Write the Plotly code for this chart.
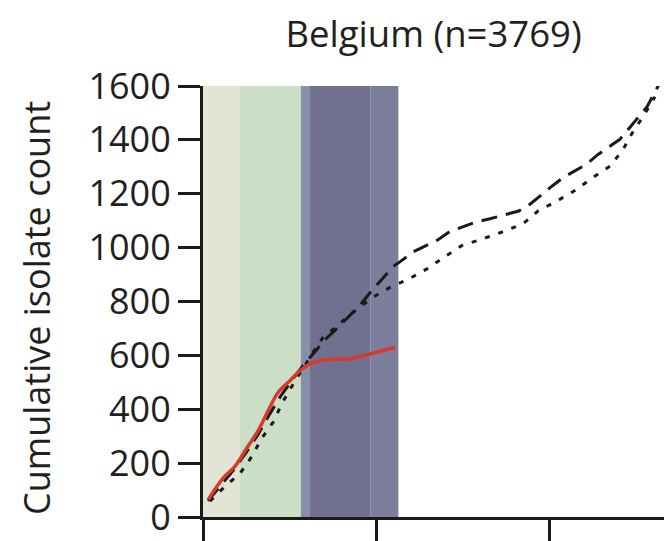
import plotly.graph_objects as go

# x in months from start; y cumulative isolate count
red_x = [0.37, 1.41, 2.22, 3.03, 3.84, 4.53, 5.22, 6.03, 6.85, 7.65, 9.04, 9.97, 11.35, 13.3]
red_y = [65, 145, 188, 255, 322, 396, 463, 506, 549, 574, 586, 586, 602, 630]

dash_x = [0.35, 1.4, 2.2, 3.0, 3.8, 4.6, 5.4, 6.2, 6.9, 7.7, 8.5, 9.3, 10.1, 10.9, 11.7,
          12.5, 13.2, 13.7, 14.6, 16.2, 17.1, 19.0, 19.9, 21.9, 22.7, 24.2, 25.0, 26.6,
          27.4, 28.9, 29.6, 30.8, 31.6]
dash_y = [60, 130, 180, 240, 305, 380, 450, 510, 560, 610, 660, 700, 745, 787, 840,
          886, 930, 949, 985, 1026, 1059, 1096, 1107, 1136, 1162, 1228, 1261, 1309,
          1346, 1401, 1445, 1523, 1603]

dot_x = [0.48, 1.53, 2.57, 3.38, 4.07, 4.88, 5.46, 6.26, 7.63, 8.32, 9.2, 10.3, 11.7,
         12.9, 14.36, 15.6, 16.79, 17.97, 19.42, 20.81, 22.2, 23.24, 24.56, 25.94,
         27.05, 28.23, 29.13, 29.83, 30.52, 31.35]
dot_y = [59, 114, 162, 224, 292, 353, 420, 494, 611, 666, 705, 755, 813,
         850, 886, 923, 967, 1008, 1033, 1059, 1089, 1136, 1173, 1217,
         1261, 1302, 1364, 1431, 1486, 1560]

# shaded periods (start, end, colour)
periods = [(0, 2.52, "#e2e5d5"), (2.52, 6.78, "#cddec6"), (6.78, 7.42, "#8690a9"),
           (7.42, 11.63, "#727090"), (11.63, 13.55, "#7c7f9c")]

y_ticks = [0, 200, 400, 600, 800, 1000, 1200, 1400, 1600]
x_ticks = [0, 12, 24, 36]

title_text = "Belgium (n=3769)"
y_title = "Cumulative isolate count"

FONT = "Open Sans"
TXT = "#231f20"

fig = go.Figure()
fig.add_trace(go.Scatter(x=dot_x, y=dot_y, mode="lines",
                         line=dict(color="#1a1a1a", width=3, dash="5px,9px")))
fig.add_trace(go.Scatter(x=dash_x, y=dash_y, mode="lines",
                         line=dict(color="#1a1a1a", width=3, dash="16px,9px")))
fig.add_trace(go.Scatter(x=red_x, y=red_y, mode="lines", line_shape="spline",
                         line=dict(color="#d8392b", width=3.5)))

for x0, x1, c in periods:
    fig.add_shape(type="rect", xref="x", yref="y", x0=x0, x1=x1, y0=0, y1=1600,
                  fillcolor=c, line_width=0, layer="below")

fig.update_layout(
    width=664, height=533,
    margin=dict(l=195, r=0, t=78, b=16),
    paper_bgcolor="white", plot_bgcolor="white",
    showlegend=False,
    font=dict(family=FONT, size=36, color=TXT),
    title=dict(text=title_text, x=0.641, xanchor="center", xref="container",
               y=0.951, yanchor="middle", yref="container",
               font=dict(family=FONT, size=36.5, color=TXT)),
    annotations=[dict(text=y_title, xref="paper", yref="paper", x=-0.354, y=0.485,
                      xanchor="center", yanchor="middle", textangle=-90, showarrow=False,
                      font=dict(family=FONT, size=36, color=TXT))],
)
fig.update_xaxes(range=[0, 32.53], tickvals=x_ticks, showticklabels=False,
                 ticks="outside", ticklen=24, tickwidth=3, tickcolor="#1a1a1a",
                 showline=True, linewidth=3, linecolor="#1a1a1a",
                 showgrid=False, zeroline=False)
fig.update_yaxes(range=[0, 1600], tickvals=y_ticks, ticktext=[str(v) for v in y_ticks],
                 ticks="outside", ticklen=22, tickwidth=3, tickcolor="#1a1a1a",
                 showline=True, linewidth=3, linecolor="#1a1a1a",
                 showgrid=False, zeroline=False,
                 tickfont=dict(family=FONT, size=36, color=TXT))

fig.write_html("out.html")
